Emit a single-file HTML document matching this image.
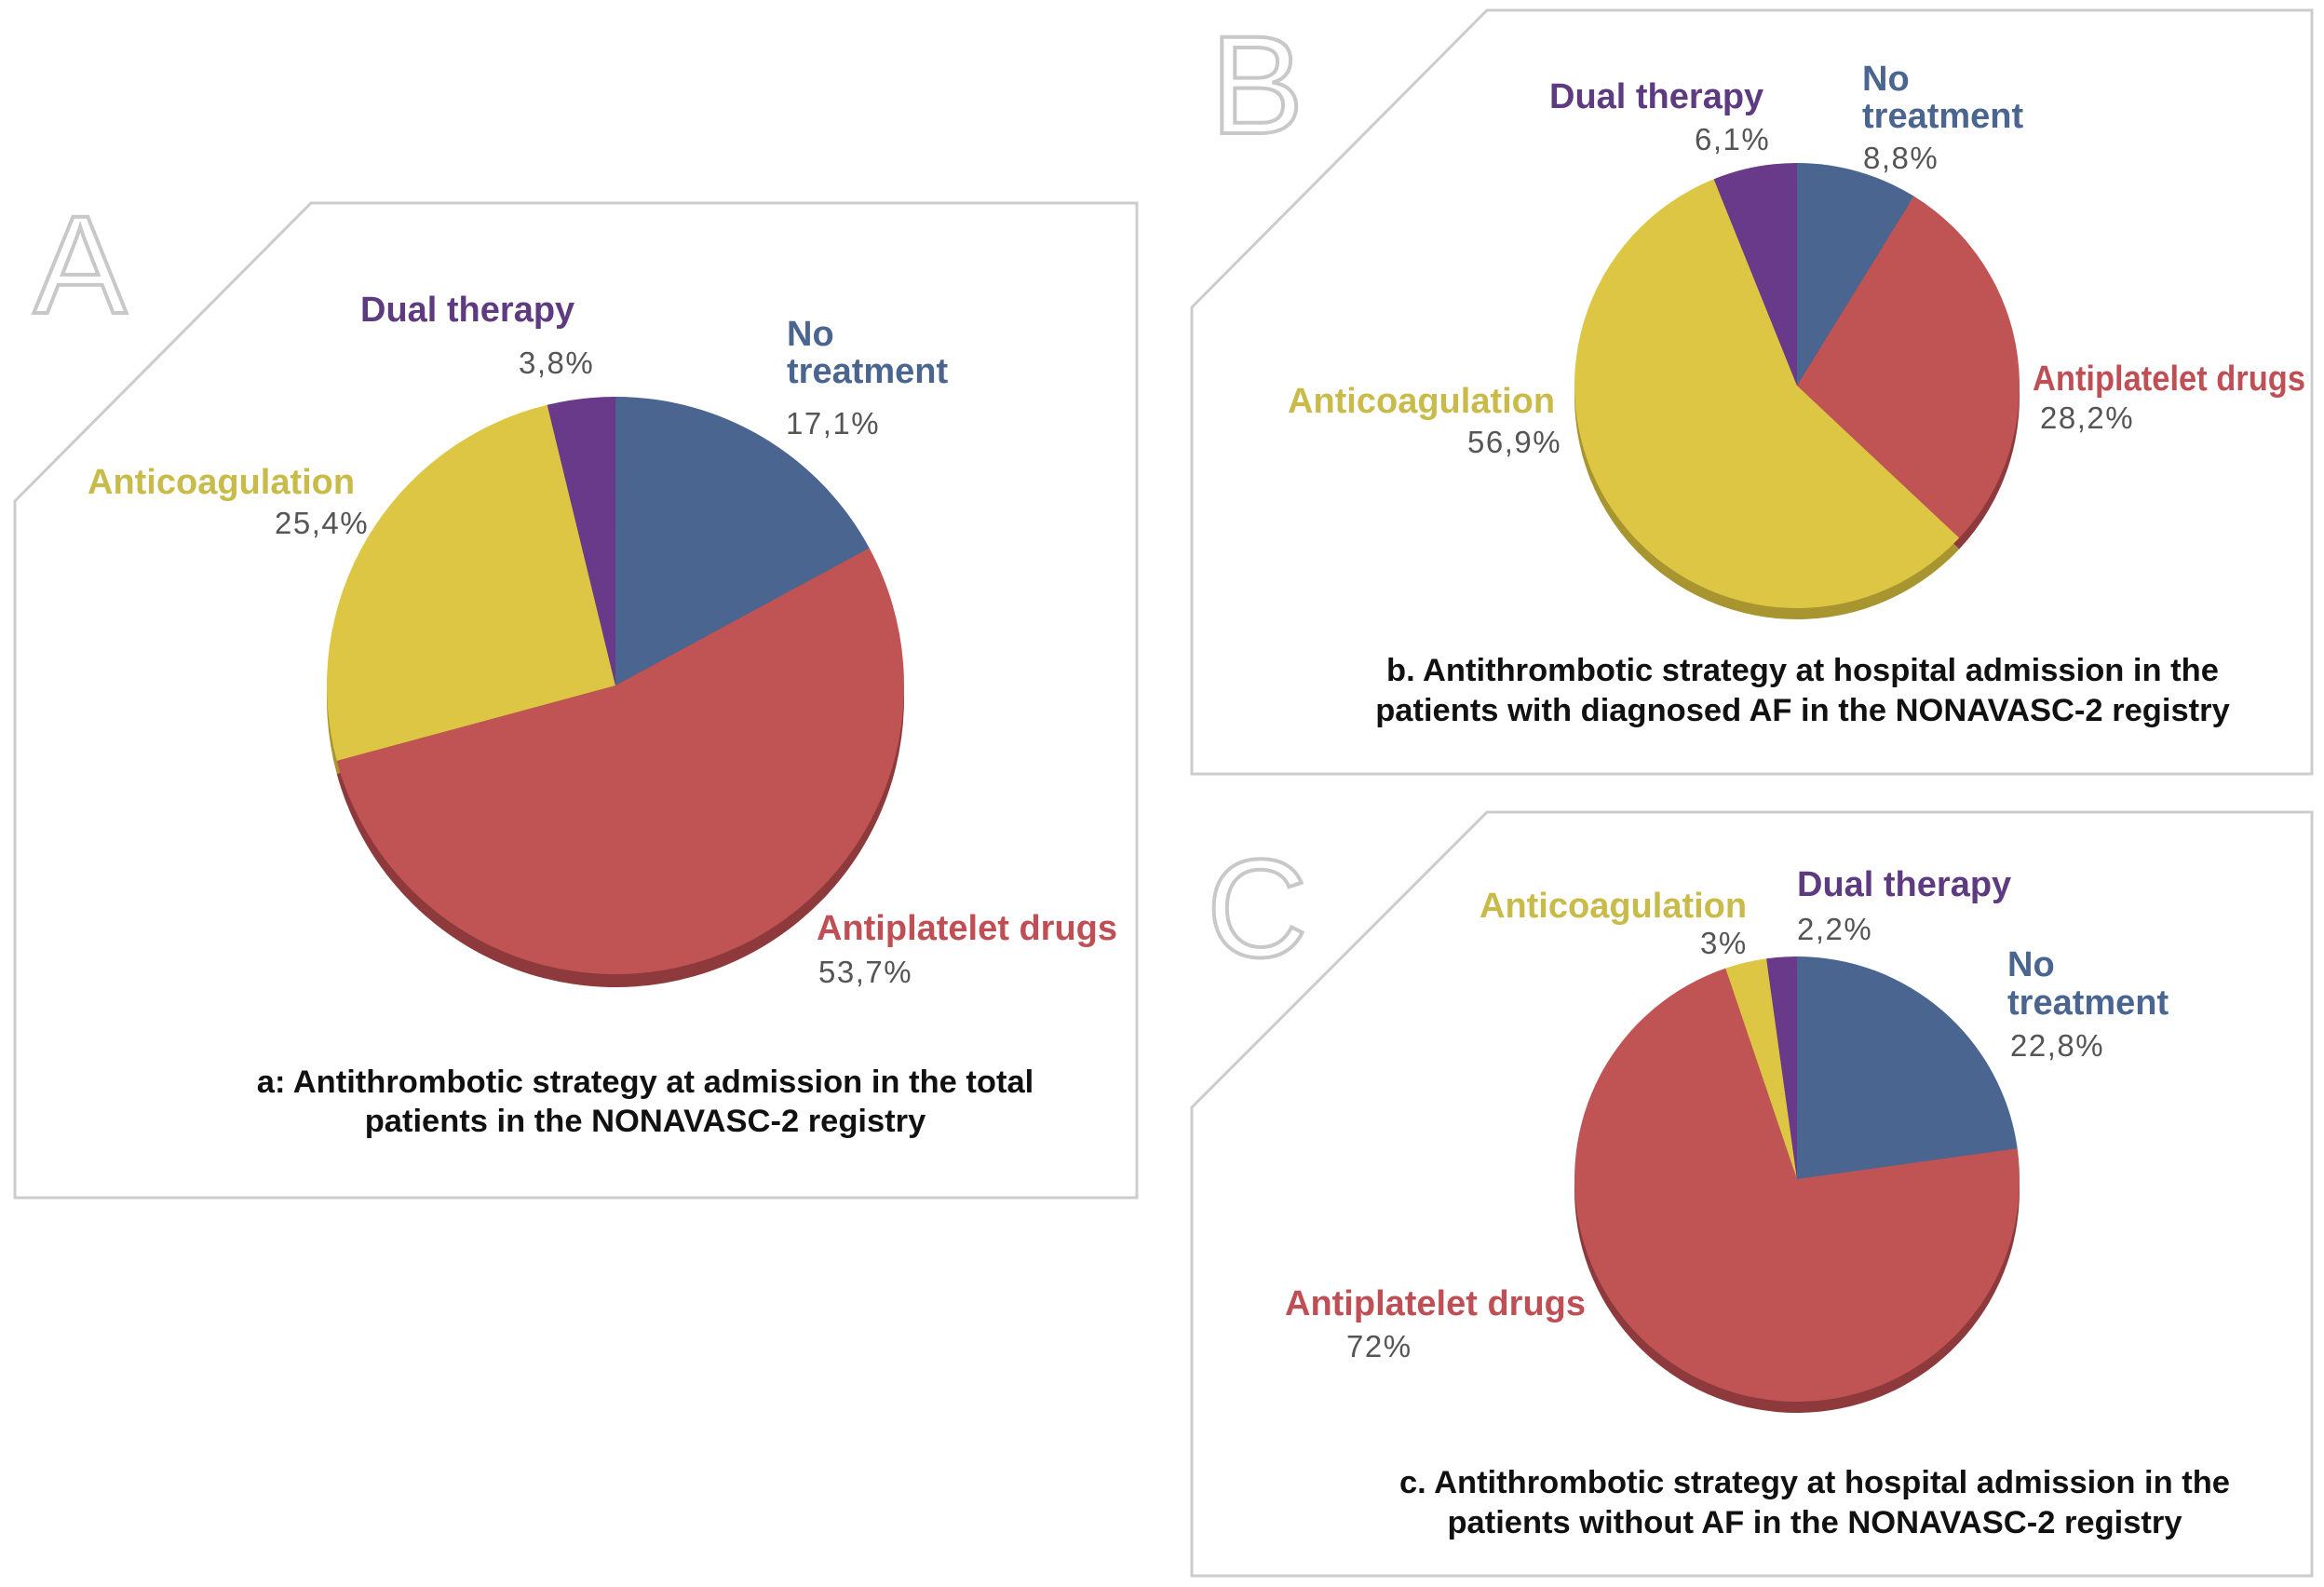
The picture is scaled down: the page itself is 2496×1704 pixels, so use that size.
<!DOCTYPE html>
<html><head><meta charset="utf-8"><style>
html,body{margin:0;padding:0;background:#fff}
svg{display:block}
.lbl{font-family:"Liberation Sans",sans-serif;font-weight:bold;font-size:38px}
.pct{font-family:"Liberation Sans",sans-serif;font-size:33px;fill:#555;letter-spacing:1.5px}
.cap{font-family:"Liberation Sans",sans-serif;font-weight:bold;font-size:34.5px;fill:#111}
.big{font-family:"Liberation Sans",sans-serif;font-size:150px;fill:none;stroke:#c8c8c8;stroke-width:4}
</style></head><body>
<svg id="chart" width="2496" height="1704" viewBox="0 0 2496 1704">
<polygon points="16,538 334,218 1221,218 1221,1286 16,1286" fill="#fff" stroke="#ccc" stroke-width="3"/>
<polygon points="1280,330 1597,11 2483,11 2483,831 1280,831" fill="#fff" stroke="#ccc" stroke-width="3"/>
<polygon points="1280,1189 1597,872 2483,872 2483,1692 1280,1692" fill="#fff" stroke="#ccc" stroke-width="3"/>
<text class="big" x="36" y="336">A</text>
<text class="big" x="1300" y="143">B</text>
<text class="big" x="1296" y="1027">C</text>
<g id="pies"></g>

<text class="lbl" x="387" y="345" fill="#5e3a80">Dual therapy</text>
<text class="pct" x="557" y="401">3,8%</text>
<text class="lbl" x="845" y="371" fill="#4a6590">No</text>
<text class="lbl" x="845" y="411" fill="#4a6590">treatment</text>
<text class="pct" x="844" y="466">17,1%</text>
<text class="lbl" x="94" y="530" fill="#c8bb4a">Anticoagulation</text>
<text class="pct" x="295" y="573">25,4%</text>
<text class="lbl" x="877" y="1009" fill="#c04f55">Antiplatelet drugs</text>
<text class="pct" x="879" y="1055">53,7%</text>
<text class="cap" x="693" y="1173" text-anchor="middle">a: Antithrombotic strategy at admission in the total</text>
<text class="cap" x="693" y="1215" text-anchor="middle">patients in the NONAVASC-2 registry</text>

<text class="lbl" x="1664" y="116" fill="#5e3a80">Dual therapy</text>
<text class="pct" x="1820" y="161">6,1%</text>
<text class="lbl" x="2000" y="97" fill="#4a6590">No</text>
<text class="lbl" x="2000" y="137" fill="#4a6590">treatment</text>
<text class="pct" x="2001" y="181">8,8%</text>
<text class="lbl" x="1383" y="443" fill="#c8bb4a">Anticoagulation</text>
<text class="pct" x="1576" y="486">56,9%</text>
<text class="lbl" x="2183" y="419" fill="#c04f55" textLength="293" lengthAdjust="spacingAndGlyphs">Antiplatelet drugs</text>
<text class="pct" x="2191" y="460">28,2%</text>
<text class="cap" x="1936" y="731" text-anchor="middle">b. Antithrombotic strategy at hospital admission in the</text>
<text class="cap" x="1936" y="774" text-anchor="middle">patients with diagnosed AF in the NONAVASC-2 registry</text>

<text class="lbl" x="1589" y="985" fill="#c8bb4a">Anticoagulation</text>
<text class="pct" x="1826" y="1024">3%</text>
<text class="lbl" x="1930" y="962" fill="#5e3a80">Dual therapy</text>
<text class="pct" x="1930" y="1009">2,2%</text>
<text class="lbl" x="2156" y="1048" fill="#4a6590">No</text>
<text class="lbl" x="2156" y="1089" fill="#4a6590">treatment</text>
<text class="pct" x="2159" y="1134">22,8%</text>
<text class="lbl" x="1380" y="1412" fill="#c04f55">Antiplatelet drugs</text>
<text class="pct" x="1446" y="1457">72%</text>
<text class="cap" x="1949" y="1603" text-anchor="middle">c. Antithrombotic strategy at hospital admission in the</text>
<text class="cap" x="1949" y="1646" text-anchor="middle">patients without AF in the NONAVASC-2 registry</text>
</svg>
<script>
const categories = ["No treatment","Antiplatelet drugs","Anticoagulation","Dual therapy"];
const valuesA = [17.1, 53.7, 25.4, 3.8];
const valuesB = [8.8, 28.2, 56.9, 6.1];
const valuesC = [22.8, 72, 3, 2.2];
const colors = ["#4a6590","#c05455","#dcc643","#6a3a8a"];
const shades = ["#34496b","#8e3a3c","#a89530","#4a2763"];
const NS = "http://www.w3.org/2000/svg";
const g = document.getElementById('pies');
function arc(cx, cy, r, a0, a1){
  const p = a => [cx + r*Math.sin(a), cy - r*Math.cos(a)];
  const [x0,y0] = p(a0), [x1,y1] = p(a1);
  const large = (a1-a0) > Math.PI ? 1 : 0;
  return `M${cx},${cy} L${x0},${y0} A${r},${r} 0 ${large} 1 ${x1},${y1} Z`;
}
function pie(name, vals, cx, cy, r, depth){
  const total = vals.reduce((a,b)=>a+b,0);
  [true,false].forEach(shadow=>{
    let a = 0;
    vals.forEach((v,i)=>{
      const a1 = a + v/total*2*Math.PI;
      const path = document.createElementNS(NS,'path');
      path.setAttribute('d', arc(cx, cy + (shadow?depth:0), r, a, a1 + (shadow?0:0.0005)));
      path.setAttribute('fill', shadow ? shades[i] : colors[i]);
      
      
      g.appendChild(path);
      a = a1;
    });
  });
}
pie('pie-a', valuesA, 661, 736, 310, 14);
pie('pie-b', valuesB, 1930, 414, 239, 12);
pie('pie-c', valuesC, 1930, 1266, 239, 12);
</script>
</body></html>
